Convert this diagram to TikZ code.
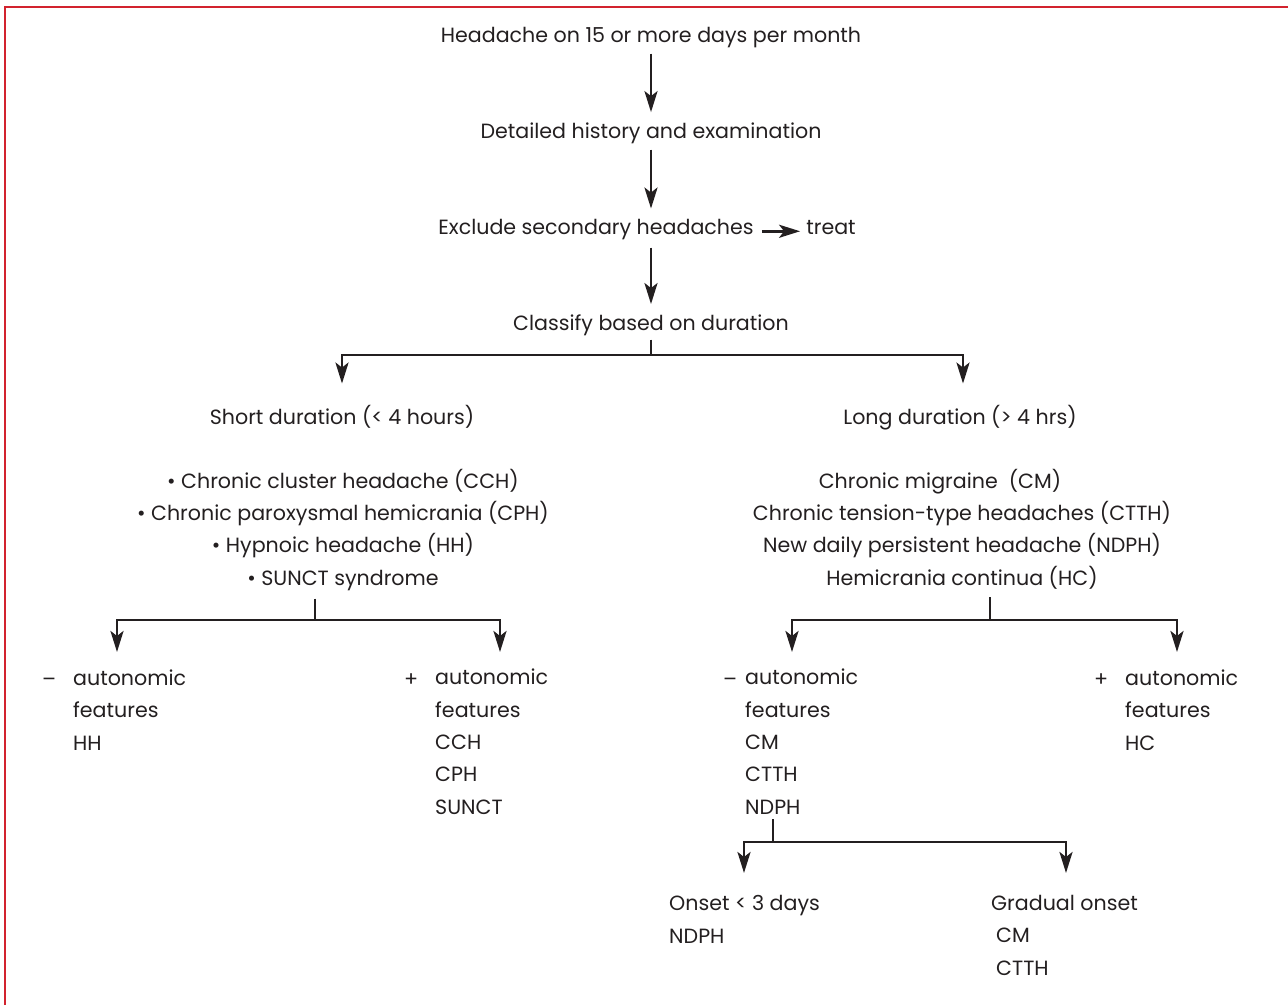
\documentclass[tikz,border=0pt]{standalone}
\usepackage{fontspec}
\setmainfont{Poppins}
\usetikzlibrary{arrows.meta}
\definecolor{ink}{HTML}{231F20}
\definecolor{framecol}{HTML}{D2232E}
\begin{document}
\begin{tikzpicture}[x=1pt,y=-1pt,
  txt/.style={inner sep=0pt, text=ink, font=\fontsize{20.6}{32.3}\selectfont},
  cline/.style={txt, anchor=base},
  blk/.style={txt, align=left, anchor=base west},
  cblk/.style={txt, align=center, anchor=base},
  conn/.style={draw=ink, line width=2.8pt, -{Stealth[length=21pt,width=13pt,inset=5pt]}},
  ln/.style={draw=ink, line width=2.8pt}]
\useasboundingbox (0,0) rectangle (1288,1005);
\draw[framecol, line width=2pt] (5,1005) -- (5,7) -- (1288,7);

% main chain
\node[cline] (head) at (651,42) {Headache on 15 or more days per month};
\node[cline] (hist) at (651,138) {Detailed history and examination};
\node[cline] (excl) at (596,234) {Exclude secondary headaches};
\node[cline] (treat) at (831,234) {treat};
\node[cline] (clas) at (651,330) {Classify based on duration};

\draw[conn, shorten <=6pt, shorten >=10pt] (head.south) -- (hist.north);
\draw[conn, shorten <=6pt, shorten >=10pt] (hist.south) -- (hist.south |- excl.north);
\draw[conn, shorten <=8pt, shorten >=6pt] (excl.mid east) -- (treat.mid west);
\draw[conn, shorten <=8pt, shorten >=10pt] (hist.south |- excl.south) -- (hist.south |- clas.north);

% first split
\coordinate (s1) at (651,355);
\node[cline] (short) at (342,424) {Short duration (< 4 hours)};
\node[cline] (long) at (960,424) {Long duration (> 4 hrs)};
\draw[ln, shorten <=4pt] (clas.south) -- (s1);
\draw[conn, shorten >=21pt] (s1) -| (short.north);
\draw[conn, shorten >=21pt] (s1) -| ([xshift=3pt]long.north);

% lists (base anchor = last line)
\node[cblk] (slist) at (343,585) {• Chronic cluster headache (CCH)\\• Chronic paroxysmal hemicrania (CPH)\\• Hypnoic headache (HH)\\• SUNCT syndrome};
\node[cblk] (llist) at (962,585) {Chronic migraine\ \ (CM)\hspace*{44pt}\\Chronic tension-type headaches (CTTH)\\New daily persistent headache (NDPH)\\Hemicrania continua (HC)};

% left split
\coordinate (s2) at (315,620);
\coordinate (t1) at (117,652);
\coordinate (t2) at (500,652);
\draw[ln, shorten <=8pt] (slist.south -| s2) -- (s2);
\draw[conn] (s2) -| (t1);
\draw[conn] (s2) -| (t2);

\node[blk] (lnegs) at (42,686) {–};
\node[blk] (lneg) at (73,750) {autonomic\\features\\HH};
\node[blk] (lposs) at (404,686) {+};
\node[blk] (lpos) at (435,814) {autonomic\\features\\CCH\\CPH\\SUNCT};

% right split
\coordinate (s3) at (990,620);
\coordinate (t3) at (792,652);
\coordinate (t4) at (1177,652);
\draw[ln, shorten <=8pt] (llist.south -| s3) -- (s3);
\draw[conn] (s3) -| (t3);
\draw[conn] (s3) -| (t4);

\node[blk] (rnegs) at (723,686) {–};
\node[blk] (rneg) at (745,814) {autonomic\\features\\CM\\CTTH\\NDPH};
\node[blk] (rposs) at (1094,686) {+};
\node[blk] (rpos) at (1125,750) {autonomic\\features\\HC};

% bottom split
\coordinate (s4) at (773,842);
\coordinate (t5) at (744,873);
\coordinate (t6) at (1066,873);
\draw[ln, shorten <=5pt] (rneg.south -| s4) -- (s4);
\draw[conn] (s4) -| (t5);
\draw[conn] (s4) -| (t6);

\node[blk] (onset) at (669,943) {Onset < 3 days\\NDPH};
\node[blk] (grad) at (991,975) {Gradual onset\\\hspace*{5pt}CM\\\hspace*{5pt}CTTH};
\end{tikzpicture}
\end{document}
